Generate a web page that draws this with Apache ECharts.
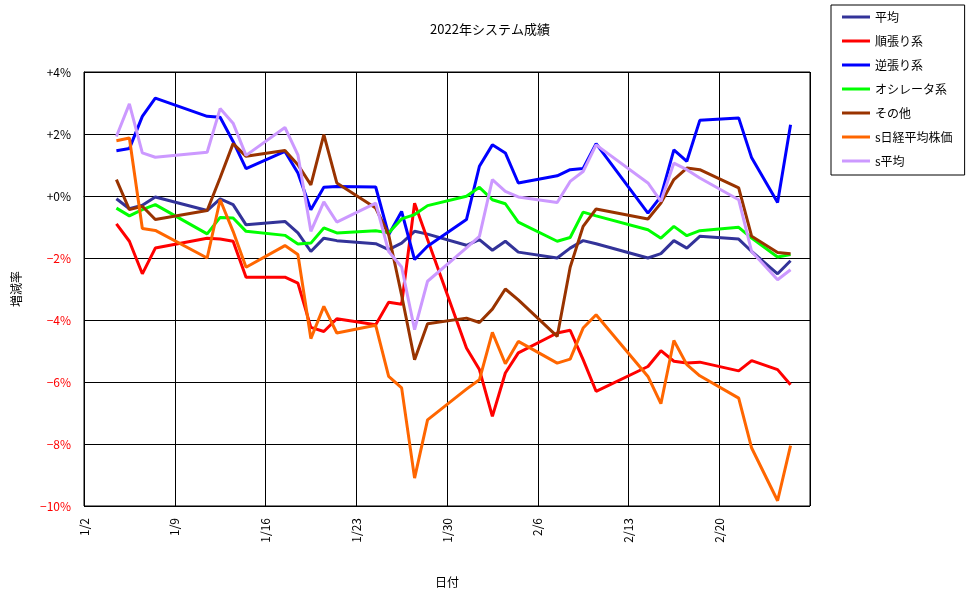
<!DOCTYPE html>
<html>
<head>
<meta charset="utf-8">
<title>2022年システム成績</title>
<script src="https://cdn.jsdelivr.net/npm/echarts@6/dist/echarts.min.js"></script>
<style>
  html, body { margin: 0; padding: 0; background: #fff; }
  #main { width: 976px; height: 599px; }
</style>
</head>
<body>
<div id="main"></div>
<script>
// 営業日
const dates = ['1/4','1/5','1/6','1/7','1/11','1/12','1/13','1/14','1/17','1/18','1/19','1/20','1/21',
  '1/24','1/25','1/26','1/27','1/28','1/31','2/1','2/2','2/3','2/4','2/7','2/8','2/9','2/10',
  '2/14','2/15','2/16','2/17','2/18','2/21','2/22','2/24','2/25']

// 各系列 (%)
const heikin = [-0.09,-0.41,-0.30,-0.03,-0.47,-0.09,-0.28,-0.93,-0.82,-1.19,-1.79,-1.36,-1.44,
  -1.54,-1.73,-1.52,-1.14,-1.23,-1.59,-1.41,-1.75,-1.46,-1.81,-2.00,-1.68,-1.44,-1.54,
  -2.00,-1.86,-1.44,-1.68,-1.30,-1.39,-1.79,-2.51,-2.09]
const junbari = [-0.90,-1.46,-2.51,-1.68,-1.36,-1.39,-1.46,-2.62,-2.62,-2.81,-4.24,-4.37,-3.96,
  -4.15,-3.43,-3.49,-0.23,-1.40,-4.90,-5.60,-7.11,-5.71,-5.06,-4.42,-4.33,-5.28,-6.30,
  -5.50,-4.99,-5.33,-5.39,-5.36,-5.64,-5.31,-5.60,-6.09]
const gyakubari = [1.46,1.53,2.57,3.16,2.57,2.54,1.76,0.88,1.44,0.74,-0.44,0.28,0.31,
  0.29,-1.25,-0.50,-2.05,-1.62,-0.76,0.96,1.65,1.39,0.42,0.65,0.85,0.89,1.69,
  -0.55,-0.01,1.49,1.12,2.44,2.52,1.23,-0.21,2.30]
const oscillator = [-0.39,-0.64,-0.44,-0.28,-1.22,-0.69,-0.71,-1.14,-1.27,-1.55,-1.52,-1.03,-1.19,
  -1.12,-1.19,-0.74,-0.60,-0.31,-0.01,0.28,-0.12,-0.25,-0.84,-1.46,-1.34,-0.52,-0.64,
  -1.09,-1.36,-0.98,-1.28,-1.12,-1.01,-1.36,-1.97,-1.89]
const sonota = [0.53,-0.44,-0.33,-0.76,-0.47,0.59,1.69,1.28,1.47,1.01,0.36,1.98,0.42,
  -0.39,-1.25,-3.20,-5.28,-4.12,-3.94,-4.08,-3.65,-3.00,-3.35,-4.53,-2.30,-0.98,-0.42,
  -0.74,-0.23,0.53,0.90,0.85,0.26,-1.30,-1.82,-1.86]
const nikkei = [1.78,1.87,-1.05,-1.11,-2.00,-0.12,-1.14,-2.30,-1.60,-1.89,-4.60,-3.56,-4.42,
  -4.17,-5.82,-6.19,-9.10,-7.22,-6.23,-5.93,-4.40,-5.41,-4.69,-5.39,-5.26,-4.26,-3.83,
  -5.82,-6.70,-4.66,-5.44,-5.80,-6.52,-8.13,-9.83,-8.05]
const sHeikin = [1.92,2.97,1.39,1.25,1.41,2.82,2.35,1.31,2.21,1.33,-1.14,-0.19,-0.84,
  -0.23,-1.79,-2.29,-4.31,-2.75,-1.67,-1.30,0.53,0.15,-0.03,-0.21,0.47,0.79,1.65,
  0.42,-0.17,1.06,0.85,0.58,-0.12,-1.79,-2.70,-2.38]

const seriesNames = ['平均','順張り系','逆張り系','オシレータ系','その他','s日経平均株価','s平均']
const seriesValues = [heikin, junbari, gyakubari, oscillator, sonota, nikkei, sHeikin]
const seriesColors = ['#333399','#ff0000','#0000ff','#00ff00','#993300','#ff6600','#cc99ff']

const yTicks = [-10, -8, -6, -4, -2, 0, 2, 4]

const FONT = '"Noto Sans CJK JP", sans-serif'
const DAY = 86400000
const base = Date.UTC(2022, 0, 2)

// 1/2 からの日数 (日付の枠の中央に置く)
function dayPos(s) {
  const [m, d] = s.split('/').map(Number)
  return (Date.UTC(2022, m - 1, d) - base) / DAY + 0.5
}
function dayLabel(v) {
  const t = new Date(base + v * DAY)
  return (t.getUTCMonth() + 1) + '/' + t.getUTCDate()
}
function pctLabel(v) {
  if (v < 0) return '\u2212' + Math.abs(v) + '%'
  return '+' + v + '%'
}

const myChart = echarts.init(document.getElementById('main'))

const option = {
  animation: false,
  backgroundColor: '#fff',
  textStyle: { fontFamily: FONT },
  title: {
    text: '2022年システム成績',
    left: 485,
    top: 18,
    textAlign: 'center',
    textStyle: { fontFamily: FONT, fontSize: 13, fontWeight: 'normal', color: '#000' }
  },
  legend: {
    orient: 'vertical',
    left: 831,
    top: 5,
    padding: [5, 12, 7, 11],
    itemGap: 10,
    itemWidth: 28,
    itemHeight: 3,
    icon: 'rect',
    borderColor: '#000',
    borderWidth: 1,
    data: seriesNames,
    textStyle: { fontFamily: FONT, fontSize: 12, color: '#000', lineHeight: 14 }
  },
  grid: {
    left: 84,
    top: 72,
    width: 726,
    height: 434,
    show: true,
    borderColor: '#000',
    borderWidth: 1
  },
  xAxis: {
    type: 'value',
    min: 0,
    max: 56,
    interval: 7,
    name: '日付',
    nameLocation: 'middle',
    nameGap: 70,
    nameTextStyle: { fontFamily: FONT, fontSize: 12, color: '#000' },
    axisLine: { lineStyle: { color: '#000' } },
    axisTick: { show: false },
    splitLine: { lineStyle: { color: '#000', width: 1 } },
    axisLabel: {
      rotate: 90,
      margin: 12,
      padding: [10, 0, 0, 0],
      showMaxLabel: false,
      color: '#000',
      fontFamily: FONT,
      fontSize: 12,
      formatter: dayLabel
    }
  },
  yAxis: {
    type: 'value',
    min: yTicks[0],
    max: yTicks[yTicks.length - 1],
    interval: 2,
    name: '増減率',
    nameLocation: 'middle',
    nameRotate: 90,
    nameGap: 62,
    nameTextStyle: { fontFamily: FONT, fontSize: 12, color: '#000' },
    axisLine: { show: true, lineStyle: { color: '#000' } },
    axisTick: { show: false },
    splitLine: { lineStyle: { color: '#000', width: 1 } },
    axisLabel: {
      margin: 13,
      fontFamily: FONT,
      fontSize: 12,
      color: (v) => (Number(v) < 0 ? '#ff0000' : '#000'),
      formatter: pctLabel
    }
  },
  series: seriesNames.map((name, i) => ({
    name: name,
    type: 'line',
    symbol: 'none',
    color: seriesColors[i],
    lineStyle: { width: 3, color: seriesColors[i] },
    data: dates.map((d, j) => [dayPos(d), seriesValues[i][j]])
  }))
}

myChart.setOption(option)
</script>
</body>
</html>
